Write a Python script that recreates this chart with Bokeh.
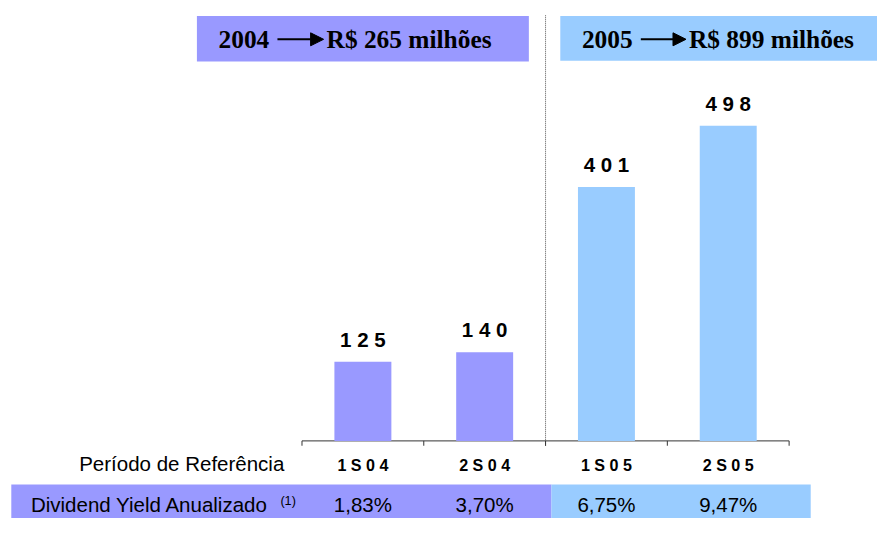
import numpy as np
from bokeh.plotting import figure
from bokeh.models import (Range1d, BoxAnnotation, LabelSet,
                          ColumnDataSource, Arrow, NormalHead)
from bokeh.core.properties import value
from bokeh.embed import file_html
from bokeh.resources import INLINE

# ---- data ----
periods = ["1S04", "2S04", "1S05", "2S05"]
period_labels = ["1 S 0 4", "2 S 0 4", "1 S 0 5", "2 S 0 5"]
values = [125, 140, 401, 498]
value_labels = ["1 2 5", "1 4 0", "4 0 1", "4 9 8"]
dividend_yield = ["1,83%", "3,70%", "6,75%", "9,47%"]
year_totals = [("2004", "R$ 265 milhões"), ("2005", "R$ 899 milhões")]

C04 = "#9999FF"
C05 = "#99CCFF"
colors = [C04, C04, C05, C05]

SANS = "Liberation Sans"
SERIF = "Liberation Serif"

W, H = 877, 518
RX, RY = W / 893, H / 534   # layout scale from the 893x534 design


def X(ix):
    return ix * RX


def Y(iy):
    return iy * RY


def SY(iy):           # screen y (from bottom of canvas)
    return H - Y(iy)


def fs(px):
    return f"{px * (RX + RY) / 2:.1f}px"


n = len(values)
xc = np.arange(n) + 0.5
bounds = np.arange(n + 1)

AX_L, AX_R, AX_B = X(307), X(803), Y(454)   # axis extent / baseline in px
CW = (AX_R - AX_L) / n                        # px per category
K = (Y(454) - Y(129)) / 498                   # px per unit of value

p = figure(width=W, height=H, output_backend="svg", toolbar_location=None,
           x_axis_location=None, y_axis_location=None,
           x_range=Range1d(-AX_L / CW, (W - AX_L) / CW),
           y_range=Range1d(-(H - AX_B) / K, AX_B / K),
           min_border=0)
p.outline_line_color = None
p.background_fill_color = "white"
p.border_fill_color = "white"
p.xgrid.visible = False
p.ygrid.visible = False


def box(l, r, t, b, color):
    p.add_layout(BoxAnnotation(left=X(l), right=X(r), top=SY(t), bottom=SY(b),
                               left_units="screen", right_units="screen",
                               top_units="screen", bottom_units="screen",
                               fill_color=color, fill_alpha=1, line_color=None,
                               level="underlay"))


def text(ix, iy, s, font, size, style="normal", align="left"):
    src = ColumnDataSource(dict(x=[X(ix)], y=[SY(iy)], t=[s]))
    p.add_layout(LabelSet(x="x", y="y", text="t", source=src,
                          x_units="screen", y_units="screen",
                          text_font=value(font), text_font_size=value(fs(size)),
                          text_font_style=value(style), text_align=value(align),
                          text_baseline=value("alphabetic"), text_color="black"))


# header boxes
box(200, 538, 16, 63, C04)
box(570, 900, 16, 62, C05)
# table row boxes
box(11, 561, 499, 540, C04)
box(561, 825, 499, 540, C05)

# header texts
for (yr, tot), (x_yr, x_a0, x_a1, x_tot) in zip(year_totals,
                                                  [(222, 282, 329, 332), (592, 652, 698, 701)]):
    text(x_yr, 49, yr, SERIF, 26, "bold")
    text(x_tot, 49, tot, SERIF, 26, "bold")
    p.add_layout(Arrow(x_start=X(x_a0), y_start=SY(40), x_end=X(x_a1), y_end=SY(40),
                       start_units="screen", end_units="screen",
                       line_width=2, line_color="black",
                       end=NormalHead(size=13, fill_color="black", line_color="black")))

# separator between years (dotted)
p.segment(x0=[2], x1=[2], y0=[-(Y(459) - AX_B) / K], y1=[(AX_B - Y(15)) / K],
          line_color="#555555", line_dash="1 1", line_width=1)

# category axis: base line and boundary ticks
p.segment(x0=[bounds[0]], x1=[bounds[-1]], y0=[0], y1=[0], line_color="#333333", line_width=1)
p.segment(x0=bounds, x1=bounds, y0=0, y1=-(Y(459) - AX_B) / K, line_color="#333333", line_width=1)

# bars
src = ColumnDataSource(dict(x=xc, top=values, color=colors, vlab=value_labels,
                            plab=period_labels, dy=dividend_yield))
p.vbar(x="x", top="top", bottom=0, width=58 / 124, fill_color="color", line_color=None,
       source=src)

p.add_layout(LabelSet(x="x", y="top", text="vlab", source=src, y_offset=15,
                      text_font=value(SANS), text_font_style=value("bold"),
                      text_font_size=value(fs(21)),
                      text_align=value("center"), text_baseline=value("alphabetic"),
                      text_color="black"))

# period labels
text(289, 485, "Período de Referência", SANS, 21, align="right")
p.add_layout(LabelSet(x="x", y=SY(485), y_units="screen", text="plab", source=src,
                      text_font=value(SANS), text_font_style=value("bold"),
                      text_font_size=value(fs(16.5)),
                      text_align=value("center"), text_baseline=value("alphabetic"),
                      text_color="black"))

# dividend yield row
text(31, 527, "Dividend Yield Anualizado", SANS, 21)
text(285, 520, "(1)", SANS, 13)
p.add_layout(LabelSet(x="x", y=SY(527), y_units="screen", text="dy", source=src,
                      text_font=value(SANS), text_font_size=value(fs(21)),
                      text_align=value("center"), text_baseline=value("alphabetic"),
                      text_color="black"))

open("out.html", "w").write(file_html(p, INLINE))
